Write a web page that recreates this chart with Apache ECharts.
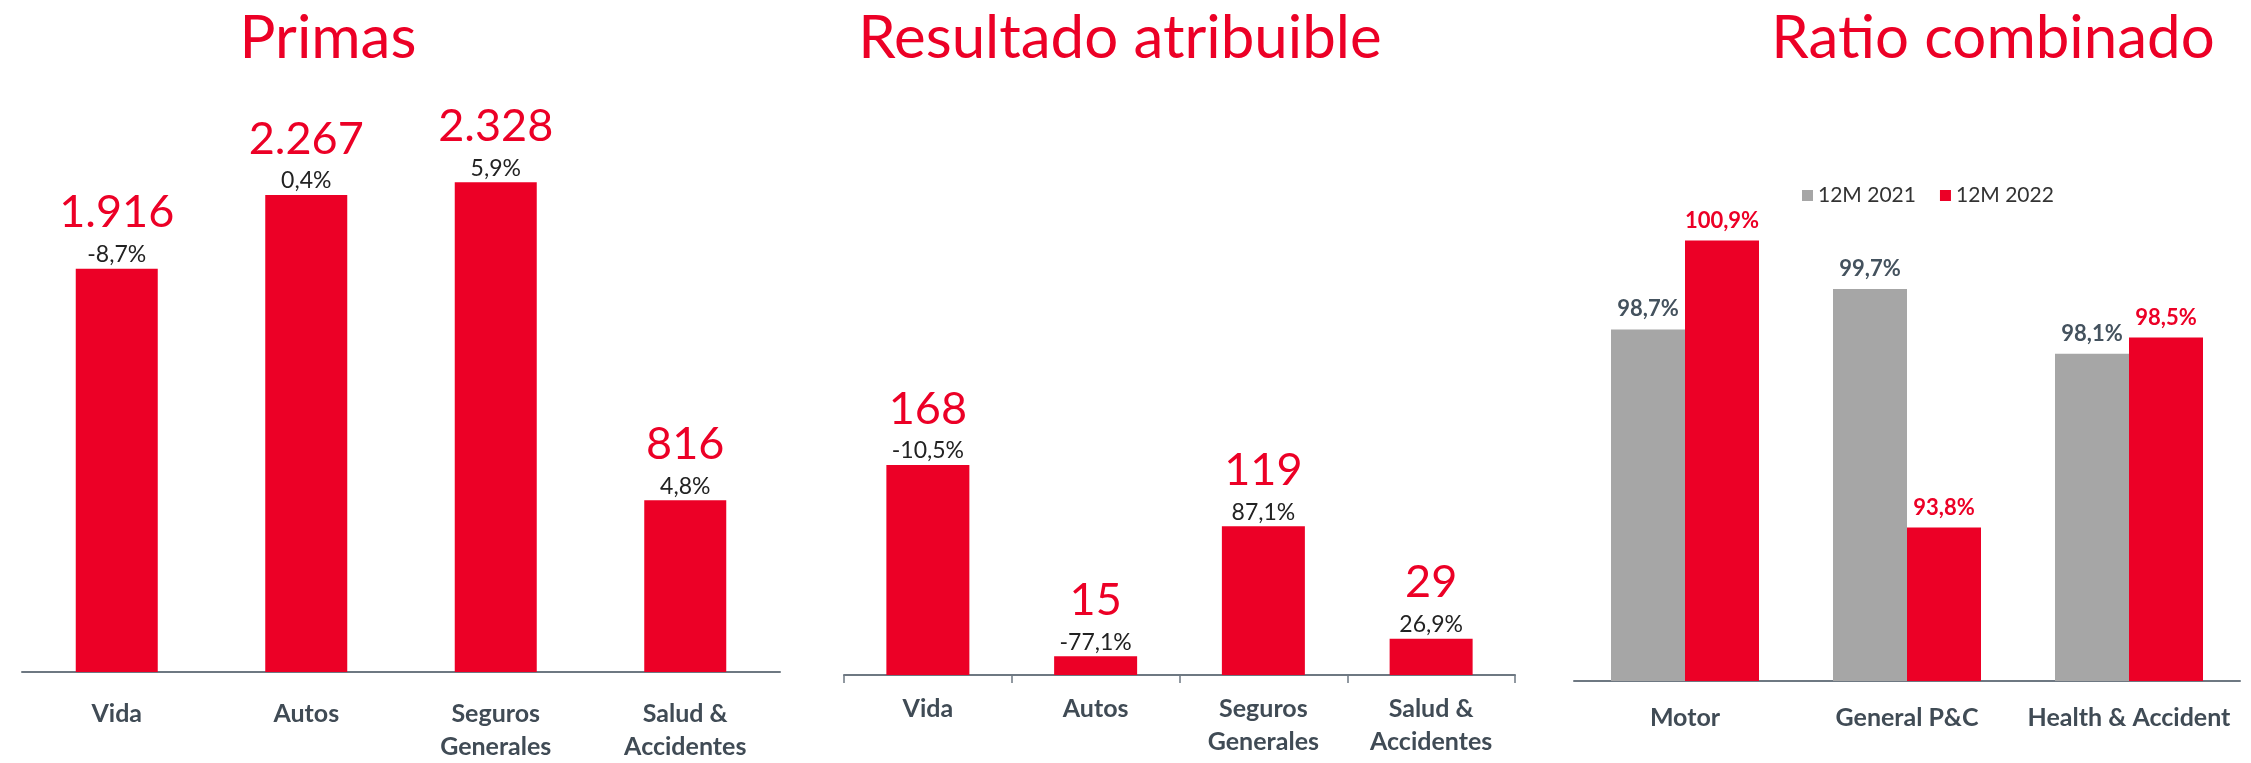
<!DOCTYPE html>
<html>
<head>
<meta charset="UTF-8">
<title>Primas, resultado y ratio combinado</title>
<script type="text/javascript" src="https://cdn.jsdelivr.net/npm/echarts@6/dist/echarts.min.js"></script>
<style>
  html, body { margin: 0; padding: 0; background: #fff; }
</style>
</head>
<body>
<div id="main" style="width: 2251px;height:763px;"></div>
<script type="text/javascript">
// categorias y valores
var segmentos = ['Vida', 'Autos', 'Seguros\nGenerales', 'Salud &\nAccidentes'];
var primas = [1916, 2267, 2328, 816];
var primasVar = ['-8,7%', '0,4%', '5,9%', '4,8%'];
var resultado = [168, 15, 119, 29];
var resultadoVar = ['-10,5%', '-77,1%', '87,1%', '26,9%'];
var ratioCats = ['Motor', 'General P&C', 'Health & Accident'];
var ratio2021 = [98.7, 99.7, 98.1];
var ratio2022 = [100.9, 93.8, 98.5];
var seriesNames = ['12M 2021', '12M 2022'];

var ROJO = '#ec0026';
var GRIS = '#a6a6a6';
var TEXTO = '#404b55';
var FONT = 'Lato';

function miles(v) {
    return String(v).replace(/\B(?=(\d{3})+(?!\d))/g, '.');
}
function pct(v) {
    return v.toFixed(1).replace('.', ',') + '%';
}

var myChart = echarts.init(document.getElementById('main'));

// etiqueta de dos lineas: cifra grande en rojo y variacion debajo
function labelDoble(vars) {
    return {
        show: true,
        position: 'top',
        distance: 1,
        formatter: function (p) {
            return '{v|' + miles(p.value) + '}\n{p|' + vars[p.dataIndex] + '}';
        },
        rich: {
            v: { fontFamily: FONT, fontSize: 45, color: ROJO, lineHeight: 58 },
            p: { fontFamily: FONT, fontSize: 23, color: '#222', lineHeight: 26 }
        }
    };
}

var catLabel = {
    fontFamily: FONT,
    fontSize: 25,
    fontWeight: 'bold',
    color: TEXTO,
    lineHeight: 33
};

var tituloStyle = { fontFamily: FONT, fontSize: 60, fontWeight: 'normal', color: ROJO };

var option = {
    animation: false,
    textStyle: { fontFamily: FONT },
    title: [
        { text: 'Primas', left: 323, top: 4, textAlign: 'center', textStyle: tituloStyle },
        { text: 'Resultado atribuible', left: 1115, top: 4, textAlign: 'center', textStyle: tituloStyle },
        { text: 'Ratio combinado', left: 1988, top: 4, textAlign: 'center', textStyle: tituloStyle }
    ],
    legend: {
        data: seriesNames,
        left: 1797,
        top: 180,
        itemWidth: 11,
        itemHeight: 11,
        itemGap: 24,
        icon: 'rect',
        textStyle: { fontFamily: FONT, fontSize: 21, color: '#333' }
    },
    grid: [
        { left: 22, top: 146, width: 758, height: 531 },
        { left: 844, top: 175, width: 671, height: 500 },
        { left: 1574, top: 196, width: 666, height: 485 }
    ],
    xAxis: [
        { type: 'category', gridIndex: 0, data: segmentos,
          axisLine: { lineStyle: { color: '#6e7882', width: 2 } },
          axisTick: { show: false },
          axisLabel: Object.assign({ margin: 25, interval: 0 }, catLabel) },
        { type: 'category', gridIndex: 1, data: segmentos,
          axisLine: { lineStyle: { color: '#6e7882', width: 2 } },
          axisTick: { show: true, length: 8, lineStyle: { color: '#6e7882', width: 1.5 } },
          axisLabel: Object.assign({ margin: 17, interval: 0 }, catLabel) },
        { type: 'category', gridIndex: 2, data: ratioCats,
          axisLine: { lineStyle: { color: '#6e7882', width: 2 } },
          axisTick: { show: false },
          axisLabel: Object.assign({ margin: 20, interval: 0 }, catLabel) }
    ],
    yAxis: [
        { type: 'value', gridIndex: 0, min: 0, max: 2500, show: false, splitLine: { show: false } },
        { type: 'value', gridIndex: 1, min: 0, max: 400, show: false, splitLine: { show: false } },
        { type: 'value', gridIndex: 2, min: 90, max: 102, show: false, splitLine: { show: false } }
    ],
    series: [
        { name: 'Primas', type: 'bar', xAxisIndex: 0, yAxisIndex: 0,
          data: primas, barWidth: 82,
          itemStyle: { color: ROJO },
          label: labelDoble(primasVar) },
        { name: 'Resultado', type: 'bar', xAxisIndex: 1, yAxisIndex: 1,
          data: resultado, barWidth: 83,
          itemStyle: { color: ROJO },
          label: labelDoble(resultadoVar) },
        { name: seriesNames[0], type: 'bar', xAxisIndex: 2, yAxisIndex: 2,
          data: ratio2021, barWidth: 74, barGap: '0%',
          itemStyle: { color: GRIS },
          label: { show: true, position: 'top', distance: 9,
                   formatter: function (p) { return pct(p.value); },
                   fontFamily: FONT, fontSize: 22, fontWeight: 'bold', color: '#44525e' } },
        { name: seriesNames[1], type: 'bar', xAxisIndex: 2, yAxisIndex: 2,
          data: ratio2022, barWidth: 74, barGap: '0%',
          itemStyle: { color: ROJO },
          label: { show: true, position: 'top', distance: 9,
                   formatter: function (p) { return pct(p.value); },
                   fontFamily: FONT, fontSize: 22, fontWeight: 'bold', color: ROJO } }
    ]
};

myChart.setOption(option);
</script>
</body>
</html>
